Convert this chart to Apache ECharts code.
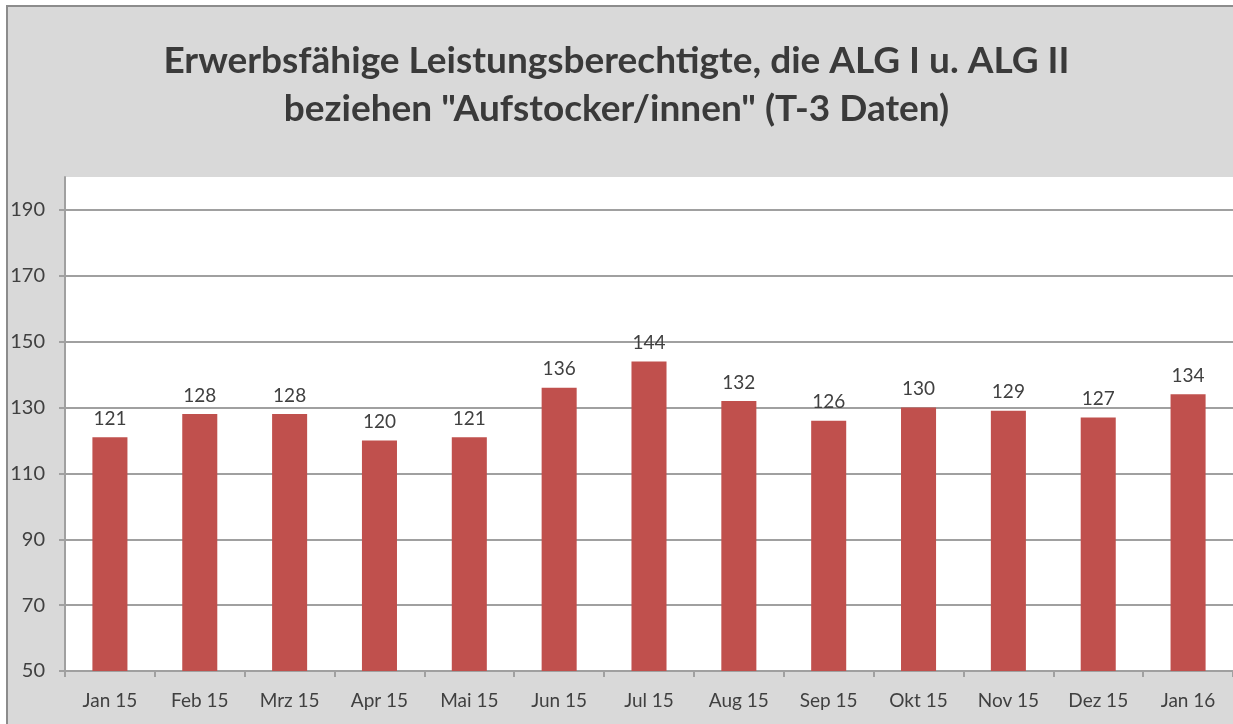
<!DOCTYPE html>
<html>
<head>
<meta charset="utf-8">
<script src="https://cdn.jsdelivr.net/npm/echarts@6/dist/echarts.min.js"></script>
<style>
html,body{margin:0;padding:0;background:#fff;}
#chart{width:1233px;height:724px;}
</style>
</head>
<body>
<div id="chart"></div>
<script>
const titleLines = ['Erwerbsfähige Leistungsberechtigte, die ALG I u. ALG II', 'beziehen "Aufstocker/innen" (T-3 Daten)'];
const categories = ['Jan 15','Feb 15','Mrz 15','Apr 15','Mai 15','Jun 15','Jul 15','Aug 15','Sep 15','Okt 15','Nov 15','Dez 15','Jan 16'];
const values = [121,128,128,120,121,136,144,132,126,130,129,127,134];
const yMin = 50, yMax = 200, yStep = 20;

const chart = echarts.init(document.getElementById('chart'), null, {renderer:'canvas'});
chart.setOption({
  animation: false,
  backgroundColor: '#ffffff',
  graphic: [{
    type: 'rect', z: -100, silent: true,
    shape: {x: 7, y: 6, width: 1240, height: 730},
    style: {fill: '#d9d9d9', stroke: '#8c8c8c', lineWidth: 2}
  }],
  title: {
    text: titleLines.join('\n'),
    left: 'center', top: 32,
    textStyle: {fontFamily: 'Lato', fontWeight: 'bold', fontSize: 37, lineHeight: 48, color: '#3a3a3a'}
  },
  grid: {
    left: 65, top: 177, width: 1170, height: 494,
    show: true, backgroundColor: '#ffffff', borderWidth: 0, z: 0
  },
  xAxis: {
    type: 'category', data: categories,
    axisLine: {lineStyle: {color: '#a0a0a0', width: 2}},
    axisTick: {show: true, length: 6, lineStyle: {color: '#a0a0a0', width: 2}},
    axisLabel: {margin: 20, fontFamily: 'Lato', fontSize: 19, color: '#404040'}
  },
  yAxis: {
    type: 'value', min: yMin, max: yMax, interval: yStep,
    axisLine: {show: true, lineStyle: {color: '#a0a0a0', width: 2}},
    axisTick: {show: true, length: 6, lineStyle: {color: '#a0a0a0', width: 2}},
    axisLabel: {margin: 20, fontFamily: 'Lato', fontSize: 20, color: '#404040', showMaxLabel: false},
    splitLine: {show: true, showMaxLine: false, lineStyle: {color: '#a0a0a0', width: 2}}
  },
  series: [{
    type: 'bar', data: values, barCategoryGap: '61%',
    itemStyle: {color: '#c0504d'},
    label: {show: true, position: 'top', distance: 9, fontFamily: 'Lato', fontSize: 19, color: '#404040'}
  }]
});
</script>
</body>
</html>
